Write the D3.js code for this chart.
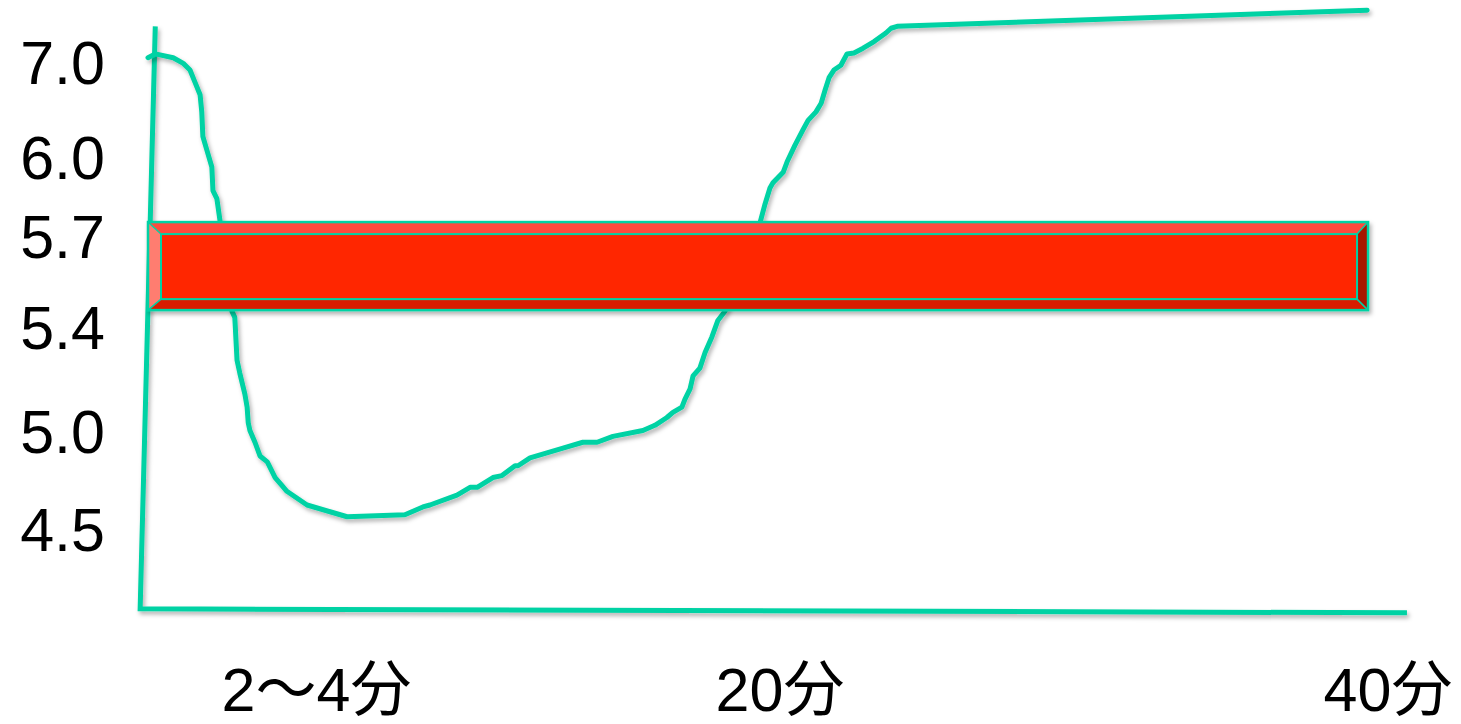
<!DOCTYPE html>
<html>
<head>
<meta charset="utf-8">
<script src="https://cdn.jsdelivr.net/npm/d3@7"></script>
<style>
  html, body { margin: 0; padding: 0; background: #ffffff; }
  svg { display: block; }
  .lbl text { font-family: "Liberation Sans", Arial, "Noto Sans CJK JP", sans-serif; font-size: 61px; fill: #000; }
</style>
</head>
<body>
<svg id="chart" width="1461" height="724"></svg>
<script>
// Plaque pH after a sugar intake (Stephan curve)
const curveMinutes = [0, 0.13, 0.45, 0.63, 0.75, 0.84, 0.93, 0.96, 0.98, 1.05, 1.14, 1.16, 1.23, 1.29, 1.39,
  1.50, 1.55, 1.59, 1.64, 1.73, 1.77, 1.79, 1.82, 1.91, 2.00, 2.13, 2.27, 2.39, 2.48, 2.84, 4.14,
  6.26, 6.92, 7.18, 8.17, 8.65, 8.91, 9.49, 9.82, 10.30, 10.41, 10.85, 12.06, 12.79, 13.31, 13.89,
  14.99, 15.43, 15.87, 16.09, 16.42, 16.53, 16.72, 16.83, 17.08, 17.27, 17.52, 17.74, 18.00, 18.62,
  19.29, 19.47, 19.65, 19.76, 20.12, 20.25, 20.51, 20.77, 20.94, 21.20, 21.37, 21.50, 21.63, 21.79,
  22.02, 22.22, 22.45, 22.75, 23.11, 23.50, 23.67, 23.87, 39.33];
const curvePH = [7.04, 7.08, 7.04, 6.98, 6.91, 6.78, 6.65, 6.47, 6.21, 6.07, 5.96, 5.87, 5.84, 5.75, 5.60,
  5.45, 5.43, 5.27, 5.22, 5.14, 5.09, 5.03, 5.00, 4.94, 4.87, 4.84, 4.76, 4.72, 4.69, 4.62, 4.56,
  4.57, 4.61, 4.62, 4.67, 4.71, 4.71, 4.76, 4.77, 4.82, 4.82, 4.86, 4.91, 4.94, 4.94, 4.97,
  5.00, 5.02, 5.05, 5.07, 5.09, 5.12, 5.16, 5.21, 5.24, 5.30, 5.36, 5.42, 5.45, 5.60,
  5.75, 5.82, 5.88, 5.90, 5.94, 5.98, 6.12, 6.28, 6.38, 6.47, 6.56, 6.70, 6.83, 6.91,
  6.96, 7.08, 7.09, 7.14, 7.21, 7.30, 7.35, 7.37, 7.54];

// Critical pH band (enamel demineralisation zone)
const bandMinutes = [0, 39.36];
const bandPH = [5.454, 5.751];

// Hand-drawn axis frame: top of y-axis, origin, end of x-axis
const frameMinutes = [0.13, -0.14, 40.64];
const framePH = [7.37, 4.09, 4.07];

const yTicks = [7.0, 6.0, 5.7, 5.4, 5.0, 4.5];
const xTicks = [3, 20, 40];
const xTickLabels = ["2〜4分", "20分", "40分"];

const teal = "#05d2a4";

const svg = d3.select("#chart");

const x = d3.scaleLinear().domain([0, 3, 20, 40]).range([148, 316, 779.5, 1387.5]);
const y = d3.scaleLinear().domain(yTicks).range([61.5, 156.5, 235.5, 326.5, 430.5, 528.5]);

const defs = svg.append("defs");
const shadow = defs.append("filter").attr("id", "shadow")
  .attr("x", "-10%").attr("y", "-10%").attr("width", "120%").attr("height", "130%");
shadow.append("feDropShadow")
  .attr("dx", 2).attr("dy", 3).attr("stdDeviation", 2)
  .attr("flood-color", "#000").attr("flood-opacity", 0.3);

const line = d3.line().x(d => x(d[0])).y(d => y(d[1]));

// Axis frame
svg.append("path")
  .datum(frameMinutes.map((m, i) => [m, framePH[i]]))
  .attr("d", line)
  .attr("fill", "none")
  .attr("stroke", teal)
  .attr("stroke-width", 5)
  .attr("stroke-linejoin", "miter")
  .attr("filter", "url(#shadow)");

// pH curve
svg.append("path")
  .datum(curveMinutes.map((m, i) => [m, curvePH[i]]))
  .attr("d", line)
  .attr("fill", "none")
  .attr("stroke", teal)
  .attr("stroke-width", 5)
  .attr("stroke-linejoin", "round")
  .attr("stroke-linecap", "round")
  .attr("filter", "url(#shadow)");

// Critical band drawn as a bevelled bar
const bx0 = x(bandMinutes[0]), bx1 = x(bandMinutes[1]);
const by0 = y(bandPH[1]), by1 = y(bandPH[0]);
const bevL = 13, bevT = 12, bevR = 11, bevB = 11;
const ix0 = bx0 + bevL, ix1 = bx1 - bevR, iy0 = by0 + bevT, iy1 = by1 - bevB;

const bar = svg.append("g").attr("filter", "url(#shadow)");
const poly = pts => "M" + pts.map(p => p.join(",")).join("L") + "Z";
bar.append("path").attr("d", poly([[bx0, by0], [bx1, by0], [ix1, iy0], [ix0, iy0]])).attr("fill", "#ff4a3c");
bar.append("path").attr("d", poly([[bx0, by0], [ix0, iy0], [ix0, iy1], [bx0, by1]])).attr("fill", "#ff7d70");
bar.append("path").attr("d", poly([[bx1, by0], [bx1, by1], [ix1, iy1], [ix1, iy0]])).attr("fill", "#a81400");
bar.append("path").attr("d", poly([[bx0, by1], [ix0, iy1], [ix1, iy1], [bx1, by1]])).attr("fill", "#d81f00");
bar.append("rect").attr("x", ix0).attr("y", iy0).attr("width", ix1 - ix0).attr("height", iy1 - iy0)
  .attr("fill", "#ff2600");
const edges = bar.append("g").attr("stroke", teal).attr("fill", "none");
edges.append("rect").attr("x", bx0).attr("y", by0).attr("width", bx1 - bx0).attr("height", by1 - by0)
  .attr("stroke-width", 2.5);
edges.append("rect").attr("x", ix0).attr("y", iy0).attr("width", ix1 - ix0).attr("height", iy1 - iy0)
  .attr("stroke-width", 2);
[[bx0, by0, ix0, iy0], [bx1, by0, ix1, iy0], [bx0, by1, ix0, iy1], [bx1, by1, ix1, iy1]].forEach(s => {
  edges.append("line").attr("x1", s[0]).attr("y1", s[1]).attr("x2", s[2]).attr("y2", s[3])
    .attr("stroke-width", 1.5);
});

// Y tick labels
const yAxis = svg.append("g").attr("class", "lbl")
  .attr("transform", "translate(105,0)")
  .call(d3.axisLeft(y).tickValues(yTicks).tickFormat(d3.format(".1f")).tickSize(0).tickPadding(0));
yAxis.select(".domain").remove();
yAxis.selectAll("text").attr("dy", "0.355em");

// X tick labels
const xAxis = svg.append("g").attr("class", "lbl")
  .attr("transform", "translate(0,711)")
  .call(d3.axisBottom(x).tickValues(xTicks).tickFormat((d, i) => xTickLabels[i]).tickSize(0).tickPadding(0));
xAxis.select(".domain").remove();
xAxis.selectAll("text").attr("y", 0).attr("dy", 0);

// Let the stylesheet control the label font
[yAxis, xAxis].forEach(g => g.attr("font-size", null).attr("font-family", null));
</script>
</body>
</html>
